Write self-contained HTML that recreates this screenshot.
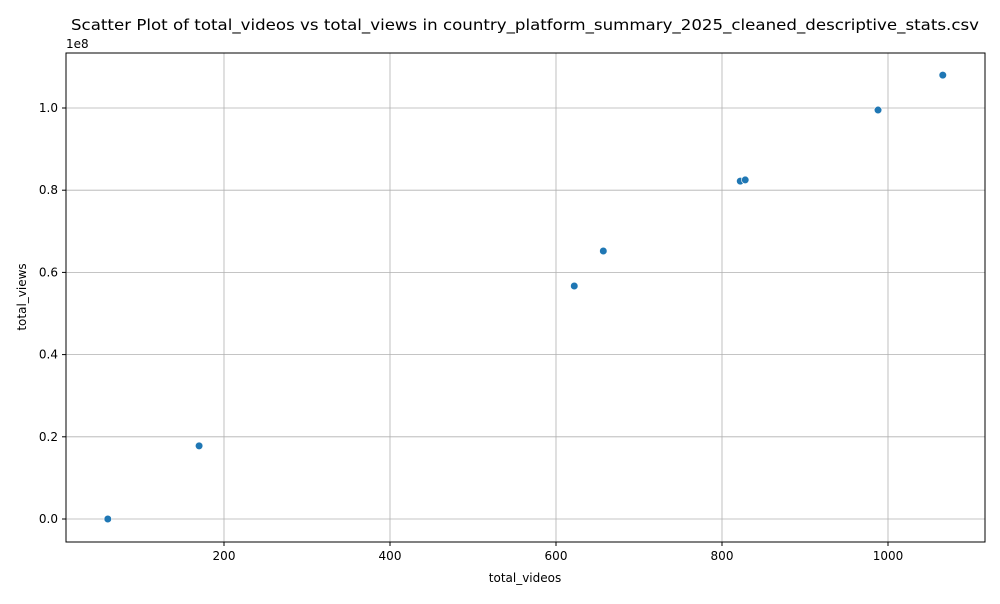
<!DOCTYPE html>
<html><head><meta charset="utf-8"><style>
body{margin:0;background:#fff;font-family:"DejaVu Sans","Liberation Sans",sans-serif;}
</style></head><body>
<svg id="chart" width="1000" height="600" xmlns="http://www.w3.org/2000/svg" font-family="DejaVu Sans, Liberation Sans, sans-serif">
<rect width="1000" height="600" fill="#fff"/>
<text x="525" y="30" text-anchor="middle" font-size="15.5" fill="#000" textLength="908" lengthAdjust="spacingAndGlyphs">Scatter Plot of total_videos vs total_views in country_platform_summary_2025_cleaned_descriptive_stats.csv</text>
<g id="grid"></g>
<g id="points"></g>
<rect x="66" y="53" width="919" height="489" fill="none" stroke="#000" stroke-width="1"/>
<g id="axes"></g>
<text x="525" y="582" text-anchor="middle" font-size="12">total_videos</text>
<text x="26" y="297" text-anchor="middle" font-size="12" transform="rotate(-90 26 297)">total_views</text>
<text x="66" y="48" font-size="12">1e8</text>
</svg>
<script>
const xVals=[60,170,622,657,822,828,988,1066];
const yVals=[0.0,0.178,0.567,0.652,0.822,0.825,0.995,1.080];
const xTicks=[200,400,600,800,1000];
const yTicks=[0.0,0.2,0.4,0.6,0.8,1.0];
const yTickLabels=["0.0","0.2","0.4","0.6","0.8","1.0"];
const NS="http://www.w3.org/2000/svg";
function sx(v){return 58+v*0.83;}
function sy(v){return 519-v*411;}
function mk(t,a,p){const e=document.createElementNS(NS,t);for(const k in a)e.setAttribute(k,a[k]);p.appendChild(e);return e;}
const grid=document.getElementById('grid'),axes=document.getElementById('axes'),pts=document.getElementById('points');
xTicks.forEach(t=>{const x=sx(t);
const g=mk('line',{x1:x,x2:x,y1:53,y2:542,stroke:'#b0b0b0','stroke-width':0.8},grid);


mk('line',{x1:x,x2:x,y1:542,y2:546,stroke:'#000'},axes);
const l=mk('text',{x:x,y:560,'text-anchor':'middle','font-size':12},axes);l.textContent=t;

});
yTicks.forEach((t,i)=>{const y=sy(t);
const g=mk('line',{x1:66,x2:985,y1:y,y2:y,stroke:'#b0b0b0','stroke-width':0.8},grid);


mk('line',{x1:62,x2:66,y1:y,y2:y,stroke:'#000'},axes);
const l=mk('text',{x:58,y:y+4,'text-anchor':'end','font-size':12},axes);l.textContent=yTickLabels[i];

});
xVals.forEach((v,i)=>{const c=mk('circle',{cx:sx(v),cy:sy(yVals[i]),r:3.8,fill:'#1f77b4',stroke:'#fff','stroke-width':0.6},pts);

});
</script>
</body></html>
